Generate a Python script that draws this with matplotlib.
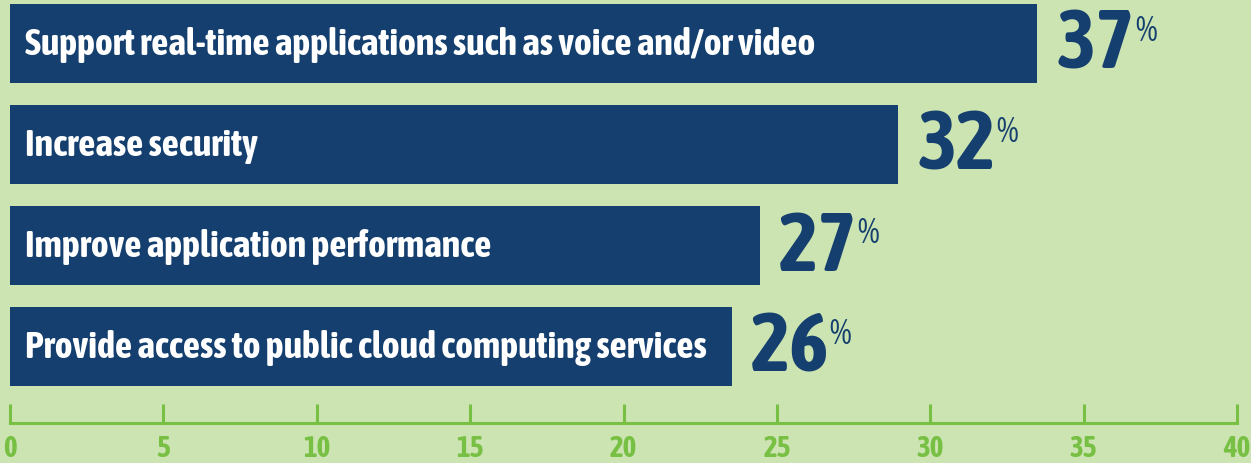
import matplotlib
matplotlib.use("Agg")
import matplotlib.pyplot as plt

categories = [
    "Support real-time applications such as voice and/or video",
    "Increase security",
    "Improve application performance",
    "Provide access to public cloud computing services",
]
values = [37, 32, 27, 26]
scale_ticks = [0, 5, 10, 15, 20, 25, 30, 35, 40]

BG = "#CCE3B2"
NAVY = "#143F6E"
GREEN = "#77C043"
FONT = ["Asap Condensed", "Barlow Condensed", "DejaVu Sans"]

W, H = 1251, 463
fig = plt.figure(figsize=(W / 100, H / 100), dpi=100, facecolor=BG)

def px_axes(x0, x1, ytop, ybot):
    return fig.add_axes([x0 / W, (H - ybot) / H, (x1 - x0) / W, (ybot - ytop) / H])

# bar axes (bars drawn against their own scale)
ax = px_axes(10, 1237, -7, 397)
ax.set_facecolor("none")
ypos = list(range(len(categories)))
ax.barh(ypos, values, height=0.78, color=NAVY, align="center")
ax.set_xlim(0, 44.2)
ax.set_ylim(len(categories) - 0.5, -0.5)
ax.axis("off")

for i, (cat, v) in enumerate(zip(categories, values)):
    ax.annotate(cat, xy=(0, i), xytext=(11, -1), textcoords="offset points",
                ha="left", va="center", color="white", fontsize=27.3,
                fontweight="bold", family=FONT)
    num = ax.annotate(f"{v}", xy=(v, i), xytext=(14, -2), textcoords="offset points",
                      ha="left", va="center", color=NAVY, fontsize=60,
                      fontweight="bold", family=FONT)
    ax.annotate("%", xy=(1, 1), xycoords=num, xytext=(0, -5),
                textcoords="offset points", ha="left", va="top",
                color=NAVY, fontsize=25, family=FONT)

# scale axis
sx = px_axes(10, 1237, 380, 423)
sx.set_facecolor("none")
sx.set_xlim(0, 40)
sx.set_ylim(0, 1)
sx.set_xticks(scale_ticks)
sx.set_xticklabels([str(t) for t in scale_ticks])
for s in ["top", "left", "right"]:
    sx.spines[s].set_visible(False)
sx.spines["bottom"].set_color(GREEN)
sx.spines["bottom"].set_linewidth(2.2)
sx.spines["bottom"].set_capstyle("projecting")
sx.set_yticks([])
sx.tick_params(axis="x", direction="in", length=14, width=2.2, color=GREEN,
               labelcolor=GREEN, labelsize=21, pad=8)
for lab in sx.get_xticklabels():
    lab.set_fontweight("bold")
    lab.set_family(FONT)

fig.savefig("out.png", dpi=100, facecolor=BG)
